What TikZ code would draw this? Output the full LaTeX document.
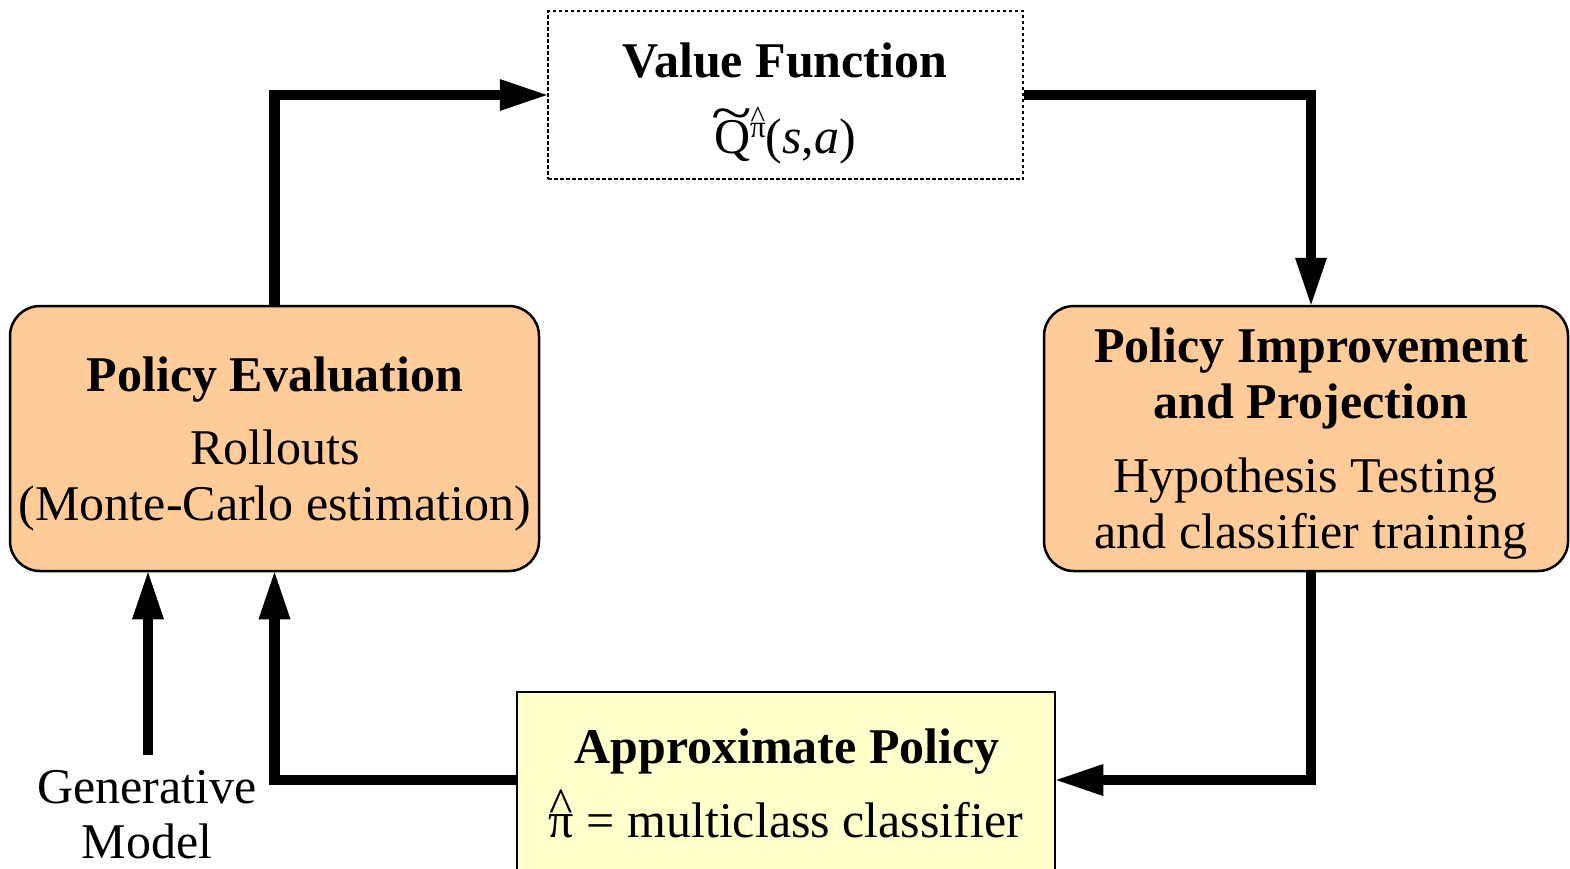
\documentclass[tikz,border=0pt]{standalone}
\usepackage{fontspec}
\usepackage{graphicx}
\setmainfont{Liberation Serif}
\usetikzlibrary{arrows.meta}
\definecolor{peach}{RGB}{255,204,153}
\definecolor{paleyellow}{RGB}{255,255,204}
% put an accent glyph (#1) centred over a base (#2), lifted by #3
\newsavebox\accbox
\newcommand{\withmark}[3]{\leavevmode\sbox\accbox{#2}\rlap{\hbox to \wd\accbox{\hss\raisebox{#3}[0pt][0pt]{#1}\hss}}\usebox\accbox}
\newcommand{\bigtildemark}{\scalebox{1.5}[1.1]{\char"7E}}
\newcommand{\bighatmark}{\char"5E}
\begin{document}
\begin{tikzpicture}[x=1pt,y=-1pt,
  every node/.style={font=\fontsize{50}{60}\selectfont},
  txt/.style={anchor=base, inner sep=0pt},
  ttl/.style={txt, font=\fontsize{50}{60}\selectfont\bfseries},
  boxbase/.style={draw, line width=2.5pt, inner sep=0pt},
  dotbox/.style={boxbase, dash pattern=on 3.5pt off 2.5pt, fill=white,
                 minimum width=475pt, minimum height=168pt},
  stagebox/.style={boxbase, fill=peach, rounded corners=30pt,
                   minimum height=265pt},
  policybox/.style={boxbase, fill=paleyellow,
                    minimum width=538pt, minimum height=208pt},
  flow/.style={line width=10.5pt,
               -{Triangle[length=47pt,width=32pt,line width=0pt]}}]
\useasboundingbox (0,0) rectangle (1570,868);
\clip (0,0) rectangle (1570,868);

% boxes
\node[dotbox] (vf) at (785.5,95) {};
\node[stagebox, minimum width=529pt] (pe) at (274.5,438.5) {};
\node[stagebox, minimum width=524pt] (pi) at (1306,438.5) {};
\node[policybox] (ap) at (786,796) {};

% texts
\node[ttl] (vft) at (785,77) {Value Function};
\node[txt] (vfq) at (785,153) {\withmark{\bigtildemark}{Q}{0.43em}\raisebox{0.32em}{\fontsize{31}{31}\selectfont\withmark{\bighatmark}{π}{0.3em}}(\textit{s},\textit{a})};

\node[ttl] (pet) at (275,391) {Policy Evaluation};
\node[txt] (per) at (275,464) {Rollouts};
\node[txt] (pem) at (275,520) {(Monte-Carlo estimation)};

\node[ttl] (pit1) at (1311,362) {Policy Improvement};
\node[ttl] (pit2) at (1311,418) {and Projection};
\node[txt] (pih) at (1305,492) {Hypothesis Testing};
\node[txt] (pic) at (1311,548) {and classifier training};

\node[ttl] (apt) at (787,763) {Approximate Policy};
\node[txt] (app) at (786,837) {\withmark{\bighatmark}{π}{0.3em} = multiclass classifier};

\node[txt] (gm1) at (147,803) {Generative};
\node[txt] (gm2) at (147,858) {Model};
\coordinate (gmtop) at (148,755);

% connectors
\draw[flow] (pe.north) |- (vf.west);
\draw[flow] (vf.east) -| ([xshift=5pt]pi.north);
\draw[flow] ([xshift=5pt]pi.south) |- ([yshift=16pt]ap.east);
\draw[flow] ([yshift=16pt]ap.west) -| (pe.south);
\draw[flow] (gmtop) -- (gmtop |- pe.south);
\end{tikzpicture}
\end{document}
